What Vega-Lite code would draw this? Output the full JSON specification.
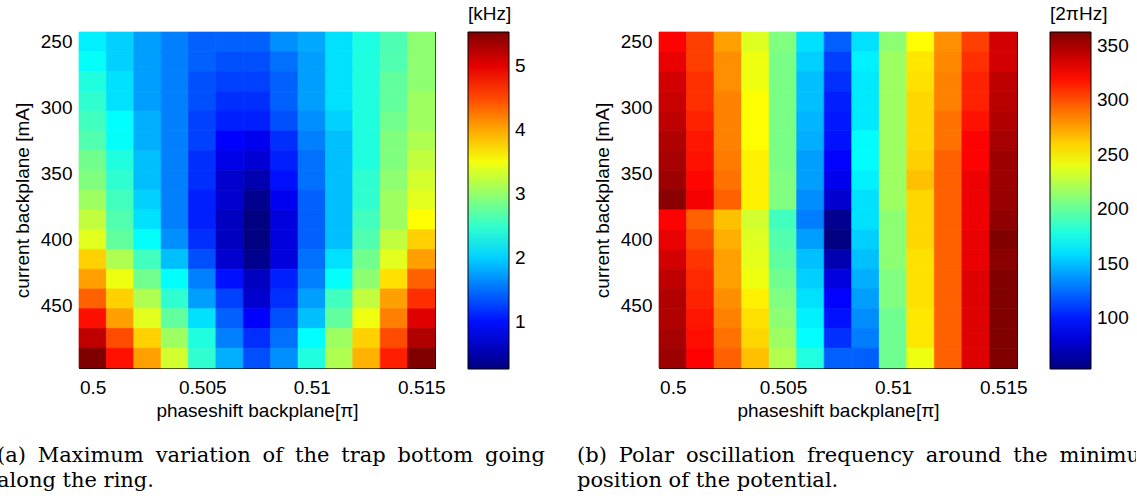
{
"$schema": "https://vega.github.io/schema/vega-lite/v6.json",
"padding": {"left": -4, "top": 4, "right": -25, "bottom": 0},
"background": "white",
"config": {
  "font": "Liberation Sans",
  "view": {"stroke": "black", "strokeWidth": 1},
  "axis": {"grid": false, "domainColor": "black", "tickColor": "black", "labelColor": "black", "titleColor": "black", "labelFontSize": 19, "titleFontSize": 19, "titleFontWeight": "normal", "tickSize": -5, "labelFont": "Liberation Sans", "titleFont": "Liberation Sans"},
  "legend": {"labelFontSize": 19, "titleFontSize": 19, "titleFontWeight": "normal", "labelColor": "black", "titleColor": "black", "gradientStrokeColor": "black", "gradientStrokeWidth": 1, "labelFont": "Liberation Sans", "titleFont": "Liberation Sans"}
},
"datasets": {
"a": [
{"x":0.5,"y":250,"v":2.16},{"x":0.50125,"y":250,"v":2.0},{"x":0.5025,"y":250,"v":1.74},{"x":0.50375,"y":250,"v":1.58},{"x":0.505,"y":250,"v":1.42},{"x":0.50625,"y":250,"v":1.42},{"x":0.5075,"y":250,"v":1.42},{"x":0.50875,"y":250,"v":1.66},{"x":0.51,"y":250,"v":1.79},{"x":0.51125,"y":250,"v":2.08},{"x":0.5125,"y":250,"v":2.39},{"x":0.51375,"y":250,"v":2.63},{"x":0.515,"y":250,"v":2.97},
{"x":0.5,"y":265,"v":2.26},{"x":0.50125,"y":265,"v":2.0},{"x":0.5025,"y":265,"v":1.74},{"x":0.50375,"y":265,"v":1.58},{"x":0.505,"y":265,"v":1.42},{"x":0.50625,"y":265,"v":1.33},{"x":0.5075,"y":265,"v":1.33},{"x":0.50875,"y":265,"v":1.5},{"x":0.51,"y":265,"v":1.74},{"x":0.51125,"y":265,"v":2.08},{"x":0.5125,"y":265,"v":2.4},{"x":0.51375,"y":265,"v":2.65},{"x":0.515,"y":265,"v":2.97},
{"x":0.5,"y":280,"v":2.4},{"x":0.50125,"y":280,"v":2.08},{"x":0.5025,"y":280,"v":1.74},{"x":0.50375,"y":280,"v":1.58},{"x":0.505,"y":280,"v":1.33},{"x":0.50625,"y":280,"v":1.25},{"x":0.5075,"y":280,"v":1.25},{"x":0.50875,"y":280,"v":1.42},{"x":0.51,"y":280,"v":1.74},{"x":0.51125,"y":280,"v":2.08},{"x":0.5125,"y":280,"v":2.4},{"x":0.51375,"y":280,"v":2.74},{"x":0.515,"y":280,"v":2.97},
{"x":0.5,"y":295,"v":2.48},{"x":0.50125,"y":295,"v":2.08},{"x":0.5025,"y":295,"v":1.74},{"x":0.50375,"y":295,"v":1.58},{"x":0.505,"y":295,"v":1.33},{"x":0.50625,"y":295,"v":1.16},{"x":0.5075,"y":295,"v":1.16},{"x":0.50875,"y":295,"v":1.42},{"x":0.51,"y":295,"v":1.74},{"x":0.51125,"y":295,"v":2.08},{"x":0.5125,"y":295,"v":2.4},{"x":0.51375,"y":295,"v":2.74},{"x":0.515,"y":295,"v":3.05},
{"x":0.5,"y":310,"v":2.57},{"x":0.50125,"y":310,"v":2.24},{"x":0.5025,"y":310,"v":1.83},{"x":0.50375,"y":310,"v":1.58},{"x":0.505,"y":310,"v":1.25},{"x":0.50625,"y":310,"v":1.08},{"x":0.5075,"y":310,"v":1.08},{"x":0.50875,"y":310,"v":1.33},{"x":0.51,"y":310,"v":1.66},{"x":0.51125,"y":310,"v":2.0},{"x":0.5125,"y":310,"v":2.4},{"x":0.51375,"y":310,"v":2.82},{"x":0.515,"y":310,"v":3.05},
{"x":0.5,"y":325,"v":2.65},{"x":0.50125,"y":325,"v":2.26},{"x":0.5025,"y":325,"v":1.83},{"x":0.50375,"y":325,"v":1.58},{"x":0.505,"y":325,"v":1.25},{"x":0.50625,"y":325,"v":0.92},{"x":0.5075,"y":325,"v":0.84},{"x":0.50875,"y":325,"v":1.16},{"x":0.51,"y":325,"v":1.58},{"x":0.51125,"y":325,"v":1.91},{"x":0.5125,"y":325,"v":2.4},{"x":0.51375,"y":325,"v":2.9},{"x":0.515,"y":325,"v":3.14},
{"x":0.5,"y":340,"v":2.82},{"x":0.50125,"y":340,"v":2.4},{"x":0.5025,"y":340,"v":1.91},{"x":0.50375,"y":340,"v":1.58},{"x":0.505,"y":340,"v":1.16},{"x":0.50625,"y":340,"v":0.8},{"x":0.5075,"y":340,"v":0.7},{"x":0.50875,"y":340,"v":1.08},{"x":0.51,"y":340,"v":1.5},{"x":0.51125,"y":340,"v":1.91},{"x":0.5125,"y":340,"v":2.4},{"x":0.51375,"y":340,"v":2.9},{"x":0.515,"y":340,"v":3.23},
{"x":0.5,"y":355,"v":2.9},{"x":0.50125,"y":355,"v":2.48},{"x":0.5025,"y":355,"v":1.91},{"x":0.50375,"y":355,"v":1.58},{"x":0.505,"y":355,"v":1.16},{"x":0.50625,"y":355,"v":0.67},{"x":0.5075,"y":355,"v":0.51},{"x":0.50875,"y":355,"v":1.0},{"x":0.51,"y":355,"v":1.5},{"x":0.51125,"y":355,"v":1.91},{"x":0.5125,"y":355,"v":2.48},{"x":0.51375,"y":355,"v":2.97},{"x":0.515,"y":355,"v":3.32},
{"x":0.5,"y":370,"v":3.05},{"x":0.50125,"y":370,"v":2.57},{"x":0.5025,"y":370,"v":2.0},{"x":0.50375,"y":370,"v":1.58},{"x":0.505,"y":370,"v":1.08},{"x":0.50625,"y":370,"v":0.67},{"x":0.5075,"y":370,"v":0.34},{"x":0.50875,"y":370,"v":0.84},{"x":0.51,"y":370,"v":1.42},{"x":0.51125,"y":370,"v":1.91},{"x":0.5125,"y":370,"v":2.48},{"x":0.51375,"y":370,"v":3.05},{"x":0.515,"y":370,"v":3.4},
{"x":0.5,"y":385,"v":3.23},{"x":0.50125,"y":385,"v":2.65},{"x":0.5025,"y":385,"v":2.08},{"x":0.50375,"y":385,"v":1.58},{"x":0.505,"y":385,"v":1.08},{"x":0.50625,"y":385,"v":0.59},{"x":0.5075,"y":385,"v":0.26},{"x":0.50875,"y":385,"v":0.75},{"x":0.51,"y":385,"v":1.42},{"x":0.51125,"y":385,"v":1.91},{"x":0.5125,"y":385,"v":2.57},{"x":0.51375,"y":385,"v":3.05},{"x":0.515,"y":385,"v":3.55},
{"x":0.5,"y":400,"v":3.4},{"x":0.50125,"y":400,"v":2.74},{"x":0.5025,"y":400,"v":2.26},{"x":0.50375,"y":400,"v":1.66},{"x":0.505,"y":400,"v":1.16},{"x":0.50625,"y":400,"v":0.59},{"x":0.5075,"y":400,"v":0.26},{"x":0.50875,"y":400,"v":0.75},{"x":0.51,"y":400,"v":1.42},{"x":0.51125,"y":400,"v":1.91},{"x":0.5125,"y":400,"v":2.65},{"x":0.51375,"y":400,"v":3.23},{"x":0.515,"y":400,"v":3.79},
{"x":0.5,"y":415,"v":3.79},{"x":0.50125,"y":415,"v":3.14},{"x":0.5025,"y":415,"v":2.57},{"x":0.50375,"y":415,"v":1.91},{"x":0.505,"y":415,"v":1.33},{"x":0.50625,"y":415,"v":0.67},{"x":0.5075,"y":415,"v":0.34},{"x":0.50875,"y":415,"v":0.75},{"x":0.51,"y":415,"v":1.5},{"x":0.51125,"y":415,"v":2.08},{"x":0.5125,"y":415,"v":2.82},{"x":0.51375,"y":415,"v":3.4},{"x":0.515,"y":415,"v":4.04},
{"x":0.5,"y":430,"v":4.04},{"x":0.50125,"y":430,"v":3.47},{"x":0.5025,"y":430,"v":2.82},{"x":0.50375,"y":430,"v":2.24},{"x":0.505,"y":430,"v":1.58},{"x":0.50625,"y":430,"v":1.0},{"x":0.5075,"y":430,"v":0.59},{"x":0.50875,"y":430,"v":1.08},{"x":0.51,"y":430,"v":1.58},{"x":0.51125,"y":430,"v":2.26},{"x":0.5125,"y":430,"v":2.97},{"x":0.51375,"y":430,"v":3.71},{"x":0.515,"y":430,"v":4.37},
{"x":0.5,"y":445,"v":4.37},{"x":0.50125,"y":445,"v":3.79},{"x":0.5025,"y":445,"v":3.14},{"x":0.50375,"y":445,"v":2.48},{"x":0.505,"y":445,"v":1.74},{"x":0.50625,"y":445,"v":1.25},{"x":0.5075,"y":445,"v":0.67},{"x":0.50875,"y":445,"v":1.16},{"x":0.51,"y":445,"v":1.74},{"x":0.51125,"y":445,"v":2.57},{"x":0.5125,"y":445,"v":3.23},{"x":0.51375,"y":445,"v":4.04},{"x":0.515,"y":445,"v":4.63},
{"x":0.5,"y":460,"v":4.79},{"x":0.50125,"y":460,"v":4.04},{"x":0.5025,"y":460,"v":3.4},{"x":0.50375,"y":460,"v":2.74},{"x":0.505,"y":460,"v":2.08},{"x":0.50625,"y":460,"v":1.42},{"x":0.5075,"y":460,"v":0.92},{"x":0.50875,"y":460,"v":1.33},{"x":0.51,"y":460,"v":1.91},{"x":0.51125,"y":460,"v":2.74},{"x":0.5125,"y":460,"v":3.47},{"x":0.51375,"y":460,"v":4.21},{"x":0.515,"y":460,"v":5.03},
{"x":0.5,"y":475,"v":5.2},{"x":0.50125,"y":475,"v":4.48},{"x":0.5025,"y":475,"v":3.79},{"x":0.50375,"y":475,"v":3.05},{"x":0.505,"y":475,"v":2.4},{"x":0.50625,"y":475,"v":1.58},{"x":0.5075,"y":475,"v":1.16},{"x":0.50875,"y":475,"v":1.5},{"x":0.51,"y":475,"v":2.24},{"x":0.51125,"y":475,"v":3.05},{"x":0.5125,"y":475,"v":3.79},{"x":0.51375,"y":475,"v":4.48},{"x":0.515,"y":475,"v":5.28},
{"x":0.5,"y":490,"v":5.53},{"x":0.50125,"y":490,"v":4.79},{"x":0.5025,"y":490,"v":4.04},{"x":0.50375,"y":490,"v":3.32},{"x":0.505,"y":490,"v":2.48},{"x":0.50625,"y":490,"v":1.83},{"x":0.5075,"y":490,"v":1.33},{"x":0.50875,"y":490,"v":1.66},{"x":0.51,"y":490,"v":2.4},{"x":0.51125,"y":490,"v":3.14},{"x":0.5125,"y":490,"v":3.95},{"x":0.51375,"y":490,"v":4.71},{"x":0.515,"y":490,"v":5.53}
],
"b": [
{"x":0.5,"y":250,"f":324},{"x":0.50125,"y":250,"f":305},{"x":0.5025,"y":250,"f":276},{"x":0.50375,"y":250,"f":237},{"x":0.505,"y":250,"f":208},{"x":0.50625,"y":250,"f":160},{"x":0.5075,"y":250,"f":121},{"x":0.50875,"y":250,"f":160},{"x":0.51,"y":250,"f":212},{"x":0.51125,"y":250,"f":247},{"x":0.5125,"y":250,"f":281},{"x":0.51375,"y":250,"f":305},{"x":0.515,"y":250,"f":338},
{"x":0.5,"y":265,"f":331},{"x":0.50125,"y":265,"f":305},{"x":0.5025,"y":265,"f":281},{"x":0.50375,"y":265,"f":242},{"x":0.505,"y":265,"f":206},{"x":0.50625,"y":265,"f":155},{"x":0.5075,"y":265,"f":111},{"x":0.50875,"y":265,"f":165},{"x":0.51,"y":265,"f":217},{"x":0.51125,"y":265,"f":254},{"x":0.5125,"y":265,"f":283},{"x":0.51375,"y":265,"f":310},{"x":0.515,"y":265,"f":338},
{"x":0.5,"y":280,"f":338},{"x":0.50125,"y":280,"f":310},{"x":0.5025,"y":280,"f":281},{"x":0.50375,"y":280,"f":242},{"x":0.505,"y":280,"f":206},{"x":0.50625,"y":280,"f":150},{"x":0.5075,"y":280,"f":106},{"x":0.50875,"y":280,"f":163},{"x":0.51,"y":280,"f":217},{"x":0.51125,"y":280,"f":256},{"x":0.5125,"y":280,"f":285},{"x":0.51375,"y":280,"f":314},{"x":0.515,"y":280,"f":344},
{"x":0.5,"y":295,"f":341},{"x":0.50125,"y":295,"f":310},{"x":0.5025,"y":295,"f":285},{"x":0.50375,"y":295,"f":247},{"x":0.505,"y":295,"f":206},{"x":0.50625,"y":295,"f":150},{"x":0.5075,"y":295,"f":101},{"x":0.50875,"y":295,"f":163},{"x":0.51,"y":295,"f":217},{"x":0.51125,"y":295,"f":259},{"x":0.5125,"y":295,"f":285},{"x":0.51375,"y":295,"f":314},{"x":0.515,"y":295,"f":346},
{"x":0.5,"y":310,"f":344},{"x":0.50125,"y":310,"f":314},{"x":0.5025,"y":310,"f":285},{"x":0.50375,"y":310,"f":247},{"x":0.505,"y":310,"f":206},{"x":0.50625,"y":310,"f":147},{"x":0.5075,"y":310,"f":99},{"x":0.50875,"y":310,"f":163},{"x":0.51,"y":310,"f":217},{"x":0.51125,"y":310,"f":259},{"x":0.5125,"y":310,"f":290},{"x":0.51375,"y":310,"f":319},{"x":0.515,"y":310,"f":348},
{"x":0.5,"y":325,"f":348},{"x":0.50125,"y":325,"f":318},{"x":0.5025,"y":325,"f":285},{"x":0.50375,"y":325,"f":247},{"x":0.505,"y":325,"f":206},{"x":0.50625,"y":325,"f":145},{"x":0.5075,"y":325,"f":97},{"x":0.50875,"y":325,"f":169},{"x":0.51,"y":325,"f":217},{"x":0.51125,"y":325,"f":259},{"x":0.5125,"y":325,"f":290},{"x":0.51375,"y":325,"f":324},{"x":0.515,"y":325,"f":351},
{"x":0.5,"y":340,"f":351},{"x":0.50125,"y":340,"f":319},{"x":0.5025,"y":340,"f":287},{"x":0.50375,"y":340,"f":251},{"x":0.505,"y":340,"f":206},{"x":0.50625,"y":340,"f":140},{"x":0.5075,"y":340,"f":92},{"x":0.50875,"y":340,"f":169},{"x":0.51,"y":340,"f":217},{"x":0.51125,"y":340,"f":261},{"x":0.5125,"y":340,"f":295},{"x":0.51375,"y":340,"f":324},{"x":0.515,"y":340,"f":354},
{"x":0.5,"y":355,"f":354},{"x":0.50125,"y":355,"f":322},{"x":0.5025,"y":355,"f":290},{"x":0.50375,"y":355,"f":251},{"x":0.505,"y":355,"f":208},{"x":0.50625,"y":355,"f":140},{"x":0.5075,"y":355,"f":87},{"x":0.50875,"y":355,"f":165},{"x":0.51,"y":355,"f":217},{"x":0.51125,"y":355,"f":266},{"x":0.5125,"y":355,"f":295},{"x":0.51375,"y":355,"f":329},{"x":0.515,"y":355,"f":354},
{"x":0.5,"y":370,"f":360},{"x":0.50125,"y":370,"f":327},{"x":0.5025,"y":370,"f":295},{"x":0.50375,"y":370,"f":251},{"x":0.505,"y":370,"f":208},{"x":0.50625,"y":370,"f":135},{"x":0.5075,"y":370,"f":77},{"x":0.50875,"y":370,"f":160},{"x":0.51,"y":370,"f":217},{"x":0.51125,"y":370,"f":259},{"x":0.5125,"y":370,"f":295},{"x":0.51375,"y":370,"f":329},{"x":0.515,"y":370,"f":356},
{"x":0.5,"y":385,"f":324},{"x":0.50125,"y":385,"f":295},{"x":0.5025,"y":385,"f":266},{"x":0.50375,"y":385,"f":233},{"x":0.505,"y":385,"f":189},{"x":0.50625,"y":385,"f":130},{"x":0.5075,"y":385,"f":58},{"x":0.50875,"y":385,"f":160},{"x":0.51,"y":385,"f":212},{"x":0.51125,"y":385,"f":259},{"x":0.5125,"y":385,"f":295},{"x":0.51375,"y":385,"f":329},{"x":0.515,"y":385,"f":358},
{"x":0.5,"y":400,"f":331},{"x":0.50125,"y":400,"f":302},{"x":0.5025,"y":400,"f":271},{"x":0.50375,"y":400,"f":237},{"x":0.505,"y":400,"f":194},{"x":0.50625,"y":400,"f":140},{"x":0.5075,"y":400,"f":53},{"x":0.50875,"y":400,"f":155},{"x":0.51,"y":400,"f":212},{"x":0.51125,"y":400,"f":259},{"x":0.5125,"y":400,"f":295},{"x":0.51375,"y":400,"f":331},{"x":0.515,"y":400,"f":363},
{"x":0.5,"y":415,"f":338},{"x":0.50125,"y":415,"f":308},{"x":0.5025,"y":415,"f":276},{"x":0.50375,"y":415,"f":239},{"x":0.505,"y":415,"f":198},{"x":0.50625,"y":415,"f":150},{"x":0.5075,"y":415,"f":68},{"x":0.50875,"y":415,"f":150},{"x":0.51,"y":415,"f":212},{"x":0.51125,"y":415,"f":256},{"x":0.5125,"y":415,"f":295},{"x":0.51375,"y":415,"f":331},{"x":0.515,"y":415,"f":360},
{"x":0.5,"y":430,"f":344},{"x":0.50125,"y":430,"f":312},{"x":0.5025,"y":430,"f":276},{"x":0.50375,"y":430,"f":242},{"x":0.505,"y":430,"f":203},{"x":0.50625,"y":430,"f":155},{"x":0.5075,"y":430,"f":82},{"x":0.50875,"y":430,"f":145},{"x":0.51,"y":430,"f":208},{"x":0.51125,"y":430,"f":256},{"x":0.5125,"y":430,"f":295},{"x":0.51375,"y":430,"f":334},{"x":0.515,"y":430,"f":363},
{"x":0.5,"y":445,"f":348},{"x":0.50125,"y":445,"f":314},{"x":0.5025,"y":445,"f":281},{"x":0.50375,"y":445,"f":251},{"x":0.505,"y":445,"f":208},{"x":0.50625,"y":445,"f":160},{"x":0.5075,"y":445,"f":92},{"x":0.50875,"y":445,"f":140},{"x":0.51,"y":445,"f":208},{"x":0.51125,"y":445,"f":256},{"x":0.5125,"y":445,"f":295},{"x":0.51375,"y":445,"f":334},{"x":0.515,"y":445,"f":363},
{"x":0.5,"y":460,"f":348},{"x":0.50125,"y":460,"f":318},{"x":0.5025,"y":460,"f":285},{"x":0.50375,"y":460,"f":256},{"x":0.505,"y":460,"f":212},{"x":0.50625,"y":460,"f":165},{"x":0.5075,"y":460,"f":97},{"x":0.50875,"y":460,"f":135},{"x":0.51,"y":460,"f":203},{"x":0.51125,"y":460,"f":254},{"x":0.5125,"y":460,"f":295},{"x":0.51375,"y":460,"f":334},{"x":0.515,"y":460,"f":363},
{"x":0.5,"y":475,"f":351},{"x":0.50125,"y":475,"f":320},{"x":0.5025,"y":475,"f":290},{"x":0.50375,"y":475,"f":259},{"x":0.505,"y":475,"f":217},{"x":0.50625,"y":475,"f":170},{"x":0.5075,"y":475,"f":106},{"x":0.50875,"y":475,"f":130},{"x":0.51,"y":475,"f":203},{"x":0.51125,"y":475,"f":254},{"x":0.5125,"y":475,"f":295},{"x":0.51375,"y":475,"f":334},{"x":0.515,"y":475,"f":363},
{"x":0.5,"y":490,"f":354},{"x":0.50125,"y":490,"f":324},{"x":0.5025,"y":490,"f":295},{"x":0.50375,"y":490,"f":266},{"x":0.505,"y":490,"f":223},{"x":0.50625,"y":490,"f":179},{"x":0.5075,"y":490,"f":121},{"x":0.50875,"y":490,"f":121},{"x":0.51,"y":490,"f":203},{"x":0.51125,"y":490,"f":242},{"x":0.5125,"y":490,"f":295},{"x":0.51375,"y":490,"f":334},{"x":0.515,"y":490,"f":363}
]
},
"hconcat": [
{
  "data": {"name": "a"},
  "width": 356, "height": 336,
  "title": {"text": ["(a) \u2005Maximum \u2005variation \u2005of \u2005the \u2005trap \u2005bottom \u2005going", "along the ring."], "orient": "bottom", "anchor": "start", "frame": "group", "dx": -82, "offset": 25, "font": "DejaVu Serif", "fontSize": 21, "fontWeight": "normal", "lineHeight": 25, "color": "black"},
  "layer": [
    {"mark": {"type": "rect", "strokeWidth": 0.7},
     "encoding": {
       "x": {"field": "x", "type": "ordinal", "axis": null},
       "y": {"field": "y", "type": "ordinal", "axis": null},
       "color": {"field": "v", "type": "quantitative",
         "scale": {"domain": [0.26, 0.92, 2.24, 3.55, 4.87, 5.53], "range": ["#000080", "#0000ff", "#00ffff", "#ffff00", "#ff0000", "#800000"], "interpolate": "rgb"},
         "legend": {"title": "[kHz]", "orient": "none", "legendX": 389, "legendY": -27, "direction": "vertical", "gradientLength": 337, "gradientThickness": 41, "values": [1, 2, 3, 4, 5], "labelOffset": 6, "titlePadding": 8}},
       "stroke": {"field": "v", "type": "quantitative",
         "scale": {"domain": [0.26, 0.92, 2.24, 3.55, 4.87, 5.530001], "range": ["#000080", "#0000ff", "#00ffff", "#ffff00", "#ff0000", "#800000"], "interpolate": "rgb"},
         "legend": null}
     }},
    {"mark": {"type": "point", "opacity": 0},
     "encoding": {
       "x": {"field": "x", "type": "quantitative", "scale": {"domain": [0.499375, 0.515625], "nice": false, "zero": false}, "axis": {"orient": "bottom", "values": [0.5, 0.505, 0.51, 0.515], "format": "~g", "title": "phaseshift backplane[π]", "labelPadding": 15, "titlePadding": 4}},
       "y": {"field": "y", "type": "quantitative", "scale": {"domain": [242.5, 497.5], "nice": false, "zero": false, "reverse": true}, "axis": {"orient": "left", "values": [250, 300, 350, 400, 450], "title": "current backplane [mA]", "labelPadding": 12, "titlePadding": 8}}
     }},
    {"mark": {"type": "point", "opacity": 0},
     "encoding": {
       "x": {"field": "x", "type": "quantitative", "scale": {"domain": [0.499375, 0.515625], "nice": false, "zero": false}, "axis": {"orient": "top", "values": [0.5, 0.505, 0.51, 0.515], "labels": false, "title": null}},
       "y": {"field": "y", "type": "quantitative", "scale": {"domain": [242.5, 497.5], "nice": false, "zero": false, "reverse": true}, "axis": {"orient": "right", "values": [250, 300, 350, 400, 450], "labels": false, "title": null}}
     }}
  ],
  "resolve": {"scale": {"x": "independent", "y": "independent"}, "axis": {"x": "independent", "y": "independent"}}
},
{
  "data": {"name": "b"},
  "width": 358, "height": 336,
  "title": {"text": ["(b) \u2005Polar \u2005oscillation \u2005frequency \u2005around \u2005the \u2005minimum", "position of the potential."], "orient": "bottom", "anchor": "start", "frame": "group", "dx": -82, "offset": 25, "font": "DejaVu Serif", "fontSize": 21, "fontWeight": "normal", "lineHeight": 25, "color": "black"},
  "layer": [
    {"mark": {"type": "rect", "strokeWidth": 0.7},
     "encoding": {
       "x": {"field": "x", "type": "ordinal", "axis": null},
       "y": {"field": "y", "type": "ordinal", "axis": null},
       "color": {"field": "f", "type": "quantitative",
         "scale": {"domain": [53, 91.75, 169.25, 246.75, 324.25, 363], "range": ["#000080", "#0000ff", "#00ffff", "#ffff00", "#ff0000", "#800000"], "interpolate": "rgb"},
         "legend": {"title": "[2πHz]", "orient": "none", "legendX": 391, "legendY": -27, "direction": "vertical", "gradientLength": 337, "gradientThickness": 41, "values": [100, 150, 200, 250, 300, 350], "labelOffset": 6, "titlePadding": 8}},
       "stroke": {"field": "f", "type": "quantitative",
         "scale": {"domain": [53, 91.75, 169.25, 246.75, 324.25, 363.0001], "range": ["#000080", "#0000ff", "#00ffff", "#ffff00", "#ff0000", "#800000"], "interpolate": "rgb"},
         "legend": null}
     }},
    {"mark": {"type": "point", "opacity": 0},
     "encoding": {
       "x": {"field": "x", "type": "quantitative", "scale": {"domain": [0.499375, 0.515625], "nice": false, "zero": false}, "axis": {"orient": "bottom", "values": [0.5, 0.505, 0.51, 0.515], "format": "~g", "title": "phaseshift backplane[π]", "labelPadding": 15, "titlePadding": 4}},
       "y": {"field": "y", "type": "quantitative", "scale": {"domain": [242.5, 497.5], "nice": false, "zero": false, "reverse": true}, "axis": {"orient": "left", "values": [250, 300, 350, 400, 450], "title": "current backplane [mA]", "labelPadding": 12, "titlePadding": 8}}
     }},
    {"mark": {"type": "point", "opacity": 0},
     "encoding": {
       "x": {"field": "x", "type": "quantitative", "scale": {"domain": [0.499375, 0.515625], "nice": false, "zero": false}, "axis": {"orient": "top", "values": [0.5, 0.505, 0.51, 0.515], "labels": false, "title": null}},
       "y": {"field": "y", "type": "quantitative", "scale": {"domain": [242.5, 497.5], "nice": false, "zero": false, "reverse": true}, "axis": {"orient": "right", "values": [250, 300, 350, 400, 450], "labels": false, "title": null}}
     }}
  ],
  "resolve": {"scale": {"x": "independent", "y": "independent"}, "axis": {"x": "independent", "y": "independent"}}
}
],
"spacing": 224,
"bounds": "flush",
"resolve": {"scale": {"color": "independent", "stroke": "independent"}, "legend": {"color": "independent", "stroke": "independent"}}
}
